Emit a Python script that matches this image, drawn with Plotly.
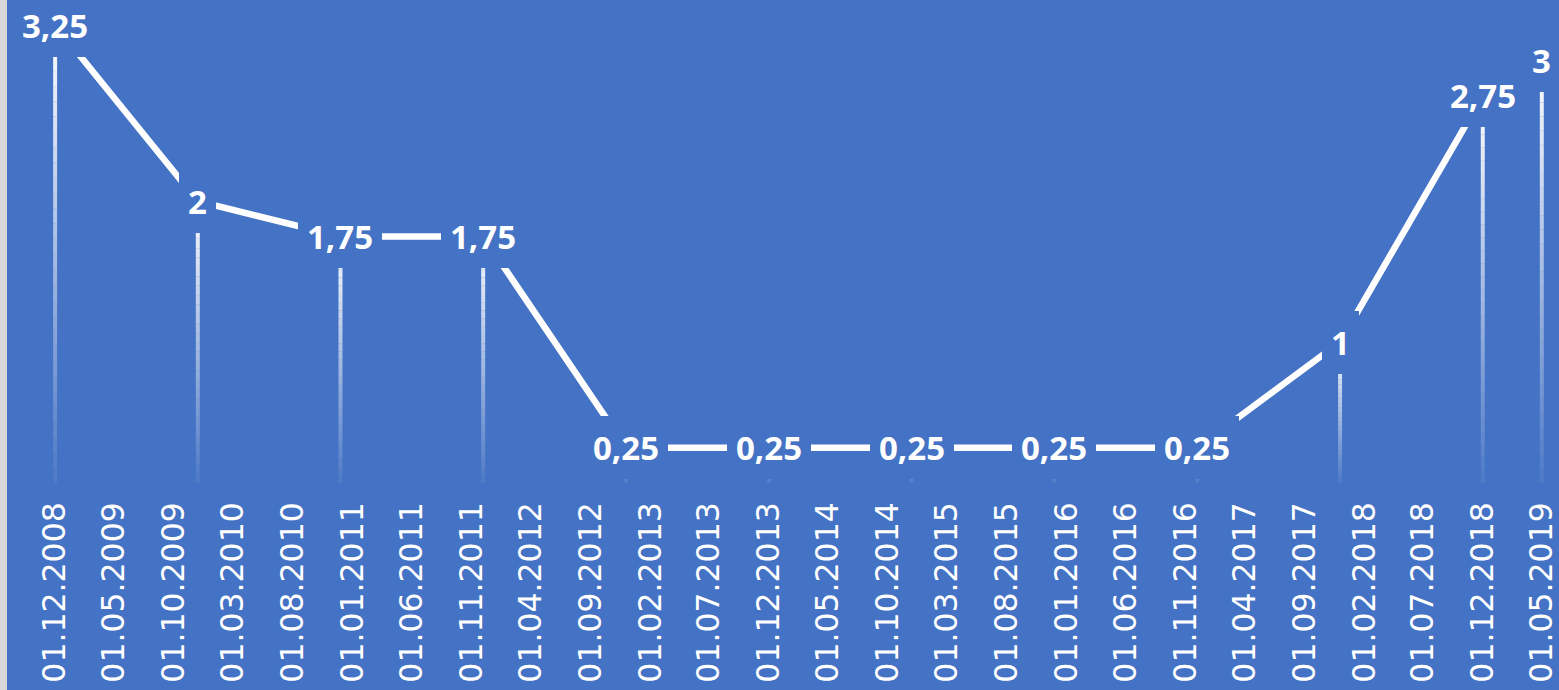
import plotly.graph_objects as go
import pandas as pd

# ---- data ----
point_dates = ["01.12.2008", "01.12.2009", "01.12.2010", "01.12.2011", "01.12.2012",
               "01.12.2013", "01.12.2014", "01.12.2015", "01.12.2016", "01.12.2017",
               "01.12.2018", "01.05.2019"]
rates = [3.25, 2, 1.75, 1.75, 0.25, 0.25, 0.25, 0.25, 0.25, 1, 2.75, 3]
rate_labels = ["3,25", "2", "1,75", "1,75", "0,25", "0,25", "0,25", "0,25", "0,25",
               "1", "2,75", "3"]
tick_labels = ["01.12.2008", "01.05.2009", "01.10.2009", "01.03.2010", "01.08.2010",
               "01.01.2011", "01.06.2011", "01.11.2011", "01.04.2012", "01.09.2012",
               "01.02.2013", "01.07.2013", "01.12.2013", "01.05.2014", "01.10.2014",
               "01.03.2015", "01.08.2015", "01.01.2016", "01.06.2016", "01.11.2016",
               "01.04.2017", "01.09.2017", "01.02.2018", "01.07.2018", "01.12.2018",
               "01.05.2019"]

# ---- styling ----
BLUE = "#4472C4"
W, H = 1559, 690
PLOT_H = 483
PX_PER_DAY = 0.391
PX_PER_UNIT = 140.9

x = [pd.to_datetime(d, format="%d.%m.%Y").strftime("%Y-%m-%d") for d in point_dates]
tickvals = [pd.to_datetime(d, format="%d.%m.%Y").strftime("%Y-%m-%d") for d in tick_labels]

x0 = pd.to_datetime(x[0])
x_start = (x0 - pd.Timedelta(days=round(55 / PX_PER_DAY))).strftime("%Y-%m-%d")
x_end = (x0 + pd.Timedelta(days=round((W - 55) / PX_PER_DAY))).strftime("%Y-%m-%d")

fig = go.Figure()

# gradient drop lines (white at top fading to background at bottom)
N = 30
for k in range(N):
    xs, ys = [], []
    for xi, v in zip(x, rates):
        xs += [xi, xi, None]
        ys += [v * k / N, v * (k + 1) / N, None]
    alpha = 0.05 + 0.95 * (k + 0.5) / N
    fig.add_trace(go.Scatter(
        x=xs, y=ys, mode="lines",
        line=dict(color=f"rgba(255,255,255,{alpha:.3f})", width=4),
        hoverinfo="skip", showlegend=False))

# main line
fig.add_trace(go.Scatter(
    x=x, y=rates, mode="lines",
    line=dict(color="white", width=6.5),
    hoverinfo="skip", showlegend=False))

# data labels with background box (hide the line behind them)
for xi, v, t in zip(x, rates, rate_labels):
    fig.add_annotation(
        x=xi, y=v, text=t, showarrow=False,
        xanchor="center", yanchor="middle",
        bgcolor=BLUE, borderpad=9, borderwidth=0,
        font=dict(family="Open Sans", size=33, color="white", weight="bold"))

# left grey border strip
fig.add_shape(type="rect", xref="paper", yref="paper",
              x0=0, x1=7 / W, y0=-1, y1=1.1,
              fillcolor="#D9D9D9", line=dict(width=0), layer="above")

fig.update_layout(
    width=W, height=H,
    margin=dict(l=0, r=0, t=0, b=H - PLOT_H, pad=0),
    paper_bgcolor=BLUE, plot_bgcolor=BLUE,
    showlegend=False,
    xaxis=dict(
        type="date", range=[x_start, x_end], autorange=False,
        tickmode="array", tickvals=tickvals, ticktext=tick_labels, tickangle=-90,
        tickfont=dict(family="DejaVu Sans", size=31.5, color="white"),
        showgrid=False, zeroline=False, showline=False, ticks="",
        ticklabelstandoff=12, ticklabeloverflow="allow", automargin=False,
    ),
    yaxis=dict(
        range=[0, PLOT_H / PX_PER_UNIT], autorange=False,
        visible=False, showgrid=False, zeroline=False,
    ),
)

fig.write_html("out.html")
